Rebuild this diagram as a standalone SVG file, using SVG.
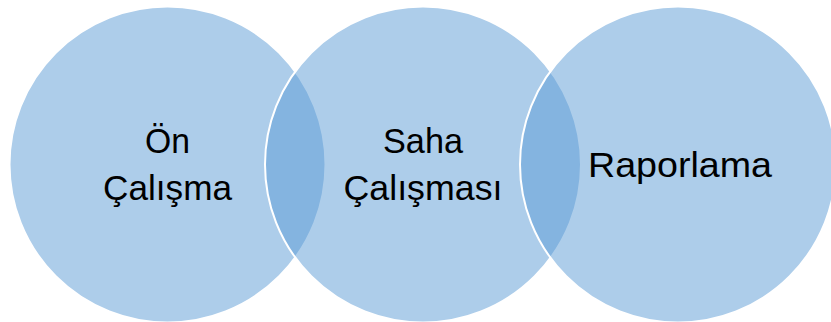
<svg xmlns="http://www.w3.org/2000/svg" width="831" height="322" viewBox="0 0 831 322">
<style>
.c{fill:#5B9BD5;fill-opacity:0.5;stroke:#FFFFFF;stroke-width:2}
.t{font-family:"Liberation Sans",Arial,sans-serif;font-size:35px;fill:#000000;text-anchor:middle}
</style>
<rect width="831" height="322" fill="#FFFFFF"/>
<g id="node-on-calisma">
<circle class="c" cx="167.5" cy="164.5" r="158"/>
</g>
<g id="node-saha-calismasi">
<circle class="c" cx="423" cy="164.5" r="158"/>
</g>
<g id="node-raporlama">
<circle class="c" cx="678" cy="164.5" r="158"/>
</g>
<g id="labels">
<text class="t" x="167.5" y="153" textLength="45" lengthAdjust="spacingAndGlyphs">Ön</text>
<text class="t" x="167.5" y="200" textLength="129" lengthAdjust="spacingAndGlyphs">Çalışma</text>
<text class="t" x="423" y="153" textLength="80" lengthAdjust="spacingAndGlyphs">Saha</text>
<text class="t" x="423" y="200" textLength="159" lengthAdjust="spacingAndGlyphs">Çalışması</text>
<text class="t" x="680" y="177" textLength="184" lengthAdjust="spacingAndGlyphs">Raporlama</text>
</g>
<g id="connectors"></g>
</svg>
